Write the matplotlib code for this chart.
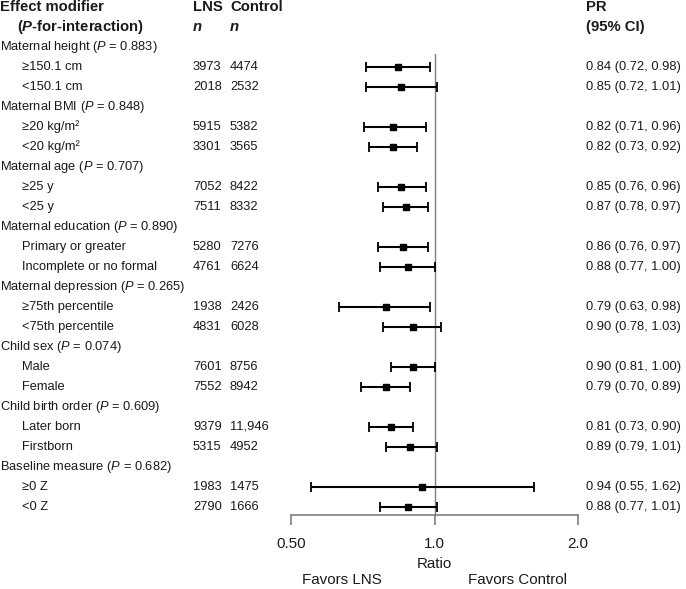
import matplotlib
matplotlib.use("Agg")
from matplotlib import pyplot as plt
from matplotlib.transforms import blended_transform_factory
import numpy as np

plt.rcParams['font.family'] = ['Liberation Sans', 'DejaVu Sans']
plt.rcParams['mathtext.fontset'] = 'custom'
plt.rcParams['mathtext.rm'] = 'Liberation Sans'
plt.rcParams['mathtext.it'] = 'Liberation Sans:italic'
plt.rcParams['mathtext.bf'] = 'Liberation Sans:bold'
plt.rcParams['mathtext.bfit'] = 'Liberation Sans:italic:bold'

# data
groups = ["Maternal height", "Maternal BMI", "Maternal age", "Maternal education",
          "Maternal depression", "Child sex", "Child birth order", "Baseline measure"]
p_int = ["0.883", "0.848", "0.707", "0.890", "0.265", "0.074", "0.609", "0.682"]
subgroups = [["≥150.1 cm", "<150.1 cm"], ["≥20 kg/m²", "<20 kg/m²"], ["≥25 y", "<25 y"],
             ["Primary or greater", "Incomplete or no formal"],
             ["≥75th percentile", "<75th percentile"], ["Male", "Female"],
             ["Later born", "Firstborn"], ["≥0 Z", "<0 Z"]]
n_lns = [[3973, 2018], [5915, 3301], [7052, 7511], [5280, 4761],
         [1938, 4831], [7601, 7552], [9379, 5315], [1983, 2790]]
n_ctrl = [["4474", "2532"], ["5382", "3565"], ["8422", "8332"], ["7276", "6624"],
          ["2426", "6028"], ["8756", "8942"], ["11,946", "4952"], ["1475", "1666"]]
pr = [[0.84, 0.85], [0.82, 0.82], [0.85, 0.87], [0.86, 0.88],
      [0.79, 0.90], [0.90, 0.79], [0.81, 0.89], [0.94, 0.88]]
lo = [[0.72, 0.72], [0.71, 0.73], [0.76, 0.78], [0.76, 0.77],
      [0.63, 0.78], [0.81, 0.70], [0.73, 0.79], [0.55, 0.77]]
hi = [[0.98, 1.01], [0.96, 0.92], [0.96, 0.97], [0.97, 1.00],
      [0.98, 1.03], [1.00, 0.89], [0.90, 1.01], [1.62, 1.01]]

W, H = 686, 589
fig = plt.figure(figsize=(W / 100, H / 100), dpi=100)
# axes: x from 0.5 (px 291) to 2.0 (px 578); rows 20 px apart, row 0 centred at y=7
row0, step = 7, 20
def row_px(r):
    return row0 + r * step
y_top, y_bot = 2.35, 25.4
ax = fig.add_axes([291 / W, 1 - row_px(y_bot) / H, (578 - 291) / W,
                   (row_px(y_bot) - row_px(y_top)) / H])
ax.set_xscale('log')
ax.set_xlim(0.5, 2.0)
ax.set_ylim(y_bot, y_top)

tr = blended_transform_factory(fig.transFigure, ax.transData)
fs = 9.3      # body
fs_h = 10.7   # header
fs_a = 10.9   # axis texts
tc = '#1a1a1a'

def txt(xpx, r, s, size=fs, **kw):
    ax.text(xpx / W, r, s, transform=tr, fontsize=size, color=tc, va='center',
            ha='left', clip_on=False, **kw)

txt(0, 0, "Effect modifier", size=fs_h, fontweight='bold')
txt(17, 1, r"($\mathbfit{P}$-for-interaction)", size=fs_h, fontweight='bold')
txt(193, 0, "LNS", size=fs_h, fontweight='bold')
txt(230, 0, "Control", size=fs_h, fontweight='bold')
txt(193, 1, "n", size=fs_h, fontweight='bold', fontstyle='italic')
txt(230, 1, "n", size=fs_h, fontweight='bold', fontstyle='italic')
txt(586, 0, "PR", size=fs_h, fontweight='bold')
txt(586, 1, "(95% CI)", size=fs_h, fontweight='bold')

r = 2
for g in range(len(groups)):
    txt(0, r, groups[g] + " ($P$ = " + p_int[g] + ")")
    r += 1
    for k in range(2):
        txt(22, r, subgroups[g][k])
        txt(193, r, str(n_lns[g][k]))
        txt(230, r, n_ctrl[g][k])
        txt(586, r, "%.2f (%.2f, %.2f)" % (pr[g][k], lo[g][k], hi[g][k]))
        ax.errorbar(pr[g][k], r,
                    xerr=[[pr[g][k] - lo[g][k]], [hi[g][k] - pr[g][k]]],
                    fmt='s', color='black', ms=5, elinewidth=1.5,
                    capsize=3.6, capthick=1.3, zorder=3)
        r += 1

ax.axvline(1.0, color='#7f7f7f', lw=1.0, zorder=1)

for s in ['top', 'right', 'left']:
    ax.spines[s].set_visible(False)
ax.spines['bottom'].set_color('#7f7f7f')
ax.spines['bottom'].set_linewidth(1.2)
ax.set_yticks([])
ax.set_xticks([0.5, 1.0, 2.0])
ax.set_xticklabels(["0.50", "1.0", "2.0"])
ax.minorticks_off()
ax.tick_params(axis='x', length=7, width=1.2, color='#7f7f7f', labelsize=fs_a,
               labelcolor=tc, pad=9)
ax.set_xlabel("Ratio", fontsize=fs_a, color=tc, labelpad=4)

fig.text(342 / W, 1 - 580 / H, "Favors LNS", fontsize=fs_a, color=tc,
         ha='center', va='center')
fig.text(517 / W, 1 - 580 / H, "Favors Control", fontsize=fs_a, color=tc,
         ha='center', va='center')

fig.savefig("out.png", dpi=100)
